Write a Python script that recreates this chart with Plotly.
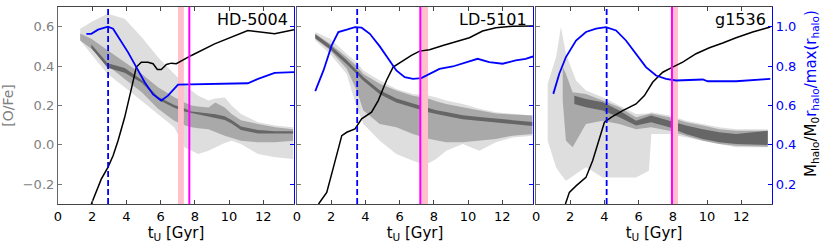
import plotly.graph_objects as go

# ---------------- data ----------------
PANEL_NAMES = ["HD-5004", "LD-5101", "g1536"]
X_TICKS = [0, 2, 4, 6, 8, 10, 12]
OFE_TICKS = [-0.2, 0.0, 0.2, 0.4, 0.6]
OFE_TICKTEXT = ["\u22120.2", "0.0", "0.2", "0.4", "0.6"]
RIGHT_TICKS = [0.2, 0.4, 0.6, 0.8, 1.0]
OFE_RANGE = [-0.3, 0.7]
RIGHT_RANGE = [0.1, 1.1]
T_RANGE = [0, 13.8]

# event times: dashed blue (max r_halo), pink band, magenta line
DASH_T = [2.93, 3.52, 4.13]
PINK_T0 = [7.02, 7.21, 7.95]
PINK_T1 = [7.36, 7.66, 8.30]
MAGENTA_T = [7.68, 7.21, 7.95]

# r_halo / max(r_halo)  (blue)
HD_R_T = [1.66, 1.95, 2.34, 2.92, 3.22, 3.6, 4.09, 4.58, 5.07, 5.56, 6.04, 6.43, 7.02, 11.1, 11.7, 12.67, 13.8]
HD_R = [0.964, 0.964, 0.985, 1.0, 0.99, 0.939, 0.871, 0.795, 0.718, 0.656, 0.625, 0.65, 0.706, 0.713, 0.735, 0.766, 0.769]
LD_R_T = [1.07, 1.55, 2.03, 2.42, 2.91, 3.39, 3.78, 4.26, 4.84, 5.33, 5.81, 6.3, 6.78, 7.27, 7.75, 8.33, 9.11, 9.88, 10.56, 11.24, 12.02, 12.79, 13.37, 13.8]
LD_R = [0.673, 0.778, 0.905, 0.973, 0.985, 0.998, 0.995, 0.964, 0.9, 0.837, 0.778, 0.744, 0.735, 0.739, 0.761, 0.786, 0.798, 0.82, 0.837, 0.82, 0.812, 0.829, 0.837, 0.849]
G_R_T = [1.01, 1.36, 1.75, 2.34, 2.92, 3.51, 4.09, 4.68, 5.26, 5.85, 6.43, 7.02, 7.6, 8.19, 8.97, 9.75, 10.04, 11.7, 13.7]
G_R = [0.659, 0.761, 0.846, 0.93, 0.973, 0.99, 0.998, 0.981, 0.93, 0.863, 0.795, 0.752, 0.735, 0.727, 0.73, 0.732, 0.723, 0.723, 0.735]

# M_halo / M_0  (black)
HD_M_T = [1.95, 2.24, 2.53, 2.92, 3.22, 3.51, 3.9, 4.29, 4.58, 4.87, 5.26, 5.56, 5.81, 6.04, 6.34, 6.63, 6.92, 7.8, 9.16, 11.1, 12.67, 13.8]
HD_M = [0.1, 0.159, 0.226, 0.286, 0.345, 0.421, 0.54, 0.684, 0.795, 0.82, 0.82, 0.812, 0.783, 0.783, 0.808, 0.815, 0.812, 0.854, 0.913, 0.981, 0.964, 0.985]
LD_M_T = [1.26, 1.74, 2.13, 2.62, 2.91, 3.39, 3.78, 4.36, 4.75, 5.23, 5.62, 6.2, 6.69, 7.17, 7.75, 8.53, 9.3, 10.08, 10.85, 11.63, 12.6, 13.8]
LD_M = [0.1, 0.159, 0.286, 0.447, 0.464, 0.481, 0.532, 0.566, 0.625, 0.727, 0.795, 0.829, 0.854, 0.876, 0.883, 0.905, 0.925, 0.944, 0.978, 0.995, 1.002, 1.003]
G_M_T = [1.72, 1.95, 2.34, 2.92, 3.31, 3.7, 4.0, 4.39, 5.07, 5.85, 6.34, 6.82, 7.41, 7.99, 8.58, 9.36, 10.14, 10.92, 11.7, 12.67, 13.7]
G_M = [0.1, 0.159, 0.192, 0.235, 0.32, 0.43, 0.515, 0.54, 0.574, 0.608, 0.65, 0.718, 0.769, 0.795, 0.82, 0.863, 0.893, 0.917, 0.944, 0.973, 0.998]

# [O/Fe] density levels (outline of each grey level)
HD_T = [1.3, 1.95, 2.9, 3.9, 4.9, 5.85, 6.8, 7.4, 7.8, 8.2, 8.8, 9.2, 9.75, 10.15, 10.7, 11.7, 12.7, 13.75]
HD_LIGHT_HI = [0.59, 0.624, 0.666, 0.64, 0.547, 0.445, 0.36, 0.31, 0.276, 0.25, 0.225, 0.235, 0.24, 0.2, 0.157, 0.115, 0.098, 0.09]
HD_LIGHT_LO = [0.53, 0.462, 0.36, 0.293, 0.225, 0.157, 0.09, -0.012, -0.03, -0.046, -0.03, -0.012, 0.01, 0.021, 0.004, -0.046, -0.063, -0.072]
HD_MID_HI = [0.565, 0.539, 0.48, 0.42, 0.36, 0.293, 0.242, 0.215, 0.2, 0.195, 0.19, 0.215, 0.19, 0.157, 0.125, 0.106, 0.09, 0.08]
HD_MID_LO = [0.53, 0.488, 0.403, 0.335, 0.267, 0.183, 0.123, 0.1, 0.09, 0.085, 0.08, 0.065, 0.047, 0.035, 0.021, 0.013, 0.013, 0.021]
HD_DARK_T = [1.95, 2.9, 3.9, 4.9, 5.85, 6.8, 7.4, 7.8, 8.2, 8.8, 9.2, 9.75, 10.15, 10.7, 11.7, 12.7, 13.75]
HD_DARK_HI = [0.51, 0.415, 0.39, 0.33, 0.245, 0.203, 0.185, 0.17, 0.166, 0.162, 0.156, 0.145, 0.126, 0.094, 0.076, 0.069, 0.069]
HD_DARK_LO = [0.492, 0.392, 0.366, 0.315, 0.23, 0.188, 0.17, 0.161, 0.154, 0.144, 0.137, 0.127, 0.109, 0.076, 0.058, 0.058, 0.058]

LD_T = [1.07, 1.94, 2.91, 3.49, 3.88, 4.84, 5.81, 6.78, 7.36, 7.75, 8.14, 8.72, 9.69, 10.66, 11.63, 12.6, 13.76]
LD_LIGHT_HI = [0.573, 0.539, 0.462, 0.42, 0.378, 0.327, 0.284, 0.259, 0.255, 0.25, 0.24, 0.225, 0.208, 0.183, 0.166, 0.157, 0.149]
LD_LIGHT_LO = [0.53, 0.462, 0.36, 0.19, 0.106, 0.021, -0.046, -0.08, -0.097, -0.09, -0.072, -0.03, 0.004, -0.03, 0.013, 0.038, 0.047]
LD_MID_HI = [0.564, 0.513, 0.445, 0.40, 0.36, 0.31, 0.276, 0.25, 0.24, 0.233, 0.222, 0.208, 0.191, 0.174, 0.16, 0.154, 0.149]
LD_MID_LO = [0.539, 0.48, 0.386, 0.276, 0.174, 0.106, 0.09, 0.055, 0.04, 0.03, 0.022, 0.013, 0.013, 0.021, 0.03, 0.047, 0.055]
LD_DARK_T = LD_T
LD_DARK_HI = [0.562, 0.506, 0.43, 0.38, 0.345, 0.277, 0.235, 0.21, 0.195, 0.184, 0.176, 0.167, 0.15, 0.142, 0.133, 0.125, 0.116]
LD_DARK_LO = [0.542, 0.486, 0.41, 0.36, 0.325, 0.257, 0.215, 0.19, 0.175, 0.164, 0.156, 0.147, 0.13, 0.122, 0.113, 0.105, 0.096]

G_T = [0.68, 1.17, 1.46, 1.75, 2.34, 2.92, 3.9, 4.87, 5.85, 6.6, 6.75, 7.8, 8.77, 9.75, 10.72, 11.7, 12.7, 13.55]
G_LIGHT_HI = [0.31, 0.445, 0.60, 0.462, 0.327, 0.276, 0.242, 0.2, 0.157, 0.16, 0.166, 0.149, 0.123, 0.106, 0.09, 0.08, 0.08, 0.08]
G_LIGHT_LO = [0.021, -0.114, -0.15, -0.182, -0.148, -0.114, -0.165, -0.165, -0.165, -0.131, 0.055, 0.055, 0.038, 0.021, 0.004, -0.012, -0.012, -0.012]
G_MID_T = [1.56, 1.75, 2.14, 2.92, 3.9, 4.87, 5.85, 6.73, 7.8, 8.77, 9.75, 10.72, 11.7, 13.55]
G_MID_HI = [0.395, 0.36, 0.267, 0.259, 0.225, 0.191, 0.14, 0.16, 0.14, 0.115, 0.098, 0.08, 0.072, 0.072]
G_MID_LO = [0.225, 0.021, -0.012, 0.106, 0.123, 0.106, 0.08, 0.09, 0.072, 0.047, 0.021, 0.004, -0.004, -0.009]
G_DARK_T = [2.24, 2.92, 3.9, 4.87, 5.85, 6.73, 7.8, 8.77, 9.75, 10.72, 11.7, 13.55]
G_DARK_HI = [0.25, 0.233, 0.217, 0.174, 0.123, 0.149, 0.123, 0.098, 0.08, 0.064, 0.055, 0.072]
G_DARK_LO = [0.208, 0.191, 0.174, 0.14, 0.098, 0.115, 0.09, 0.055, 0.03, 0.013, 0.004, 0.0]

# ---------------- styling ----------------
LIGHT, MID, DARK = "#dedede", "#a9a9a9", "#666666"
GREY_TXT = "#808080"
BLUE = "#0000ff"
FONT = "DejaVu Sans"

panels = [
    dict(bands=[(HD_T, HD_LIGHT_HI, HD_LIGHT_LO, LIGHT), (HD_T, HD_MID_HI, HD_MID_LO, MID),
                (HD_DARK_T, HD_DARK_HI, HD_DARK_LO, DARK)],
         rt=HD_R_T, r=HD_R, mt=HD_M_T, m=HD_M),
    dict(bands=[(LD_T, LD_LIGHT_HI, LD_LIGHT_LO, LIGHT), (LD_T, LD_MID_HI, LD_MID_LO, MID),
                (LD_DARK_T, LD_DARK_HI, LD_DARK_LO, DARK)],
         rt=LD_R_T, r=LD_R, mt=LD_M_T, m=LD_M),
    dict(bands=[(G_T, G_LIGHT_HI, G_LIGHT_LO, LIGHT), (G_MID_T, G_MID_HI, G_MID_LO, MID),
                (G_DARK_T, G_DARK_HI, G_DARK_LO, DARK)],
         rt=G_R_T, r=G_R, mt=G_M_T, m=G_M),
]

DOMAINS = [[0.0, 0.3305], [0.3347, 0.6653], [0.6695, 1.0]]

fig = go.Figure()
layout = {}
shapes = []
annotations = []

for i, p in enumerate(panels):
    n = i + 1
    xa = "x" if n == 1 else f"x{n}"
    ya = "y" if n == 1 else f"y{n}"
    yr = f"y{n + 3}"

    for (t, hi, lo, col) in p["bands"]:
        fig.add_trace(go.Scatter(
            x=list(t) + list(t)[::-1], y=list(hi) + list(lo)[::-1],
            fill="toself", fillcolor=col, mode="lines", line=dict(width=0, color=col),
            hoverinfo="skip", showlegend=False, xaxis=xa, yaxis=ya))

    # pink band (above the grey density)
    fig.add_trace(go.Scatter(
        x=[PINK_T0[i], PINK_T1[i], PINK_T1[i], PINK_T0[i]],
        y=[OFE_RANGE[0], OFE_RANGE[0], OFE_RANGE[1], OFE_RANGE[1]],
        fill="toself", fillcolor="#ffc0cb", mode="lines", line=dict(width=0),
        hoverinfo="skip", showlegend=False, xaxis=xa, yaxis=ya))

    fig.add_trace(go.Scatter(x=p["mt"], y=p["m"], mode="lines",
                             line=dict(color="black", width=1.5), showlegend=False,
                             xaxis=xa, yaxis=yr))
    fig.add_trace(go.Scatter(x=p["rt"], y=p["r"], mode="lines",
                             line=dict(color=BLUE, width=1.8), showlegend=False,
                             xaxis=xa, yaxis=yr))

    shapes.append(dict(type="line", xref=xa, yref=f"{ya} domain", x0=DASH_T[i], x1=DASH_T[i],
                       y0=0, y1=1, line=dict(color=BLUE, width=1.8, dash="6px,3px")))
    shapes.append(dict(type="line", xref=xa, yref=f"{ya} domain", x0=MAGENTA_T[i], x1=MAGENTA_T[i],
                       y0=0, y1=1, line=dict(color="#ff00ff", width=2)))

    annotations.append(dict(text=PANEL_NAMES[i], xref=f"{xa} domain", yref=f"{ya} domain",
                            x=0.985, y=0.995, xanchor="right", yanchor="top", showarrow=False,
                            font=dict(family=FONT, size=16, color="black")))

    xkey = "xaxis" if n == 1 else f"xaxis{n}"
    layout[xkey] = dict(domain=DOMAINS[i], anchor=ya, range=T_RANGE, tickvals=X_TICKS,
                        ticks="inside", ticklen=4, tickcolor="#444", showline=True,
                        linecolor="#444", linewidth=1.2, mirror="ticks", showgrid=False,
                        zeroline=False, tickfont=dict(family=FONT, size=13, color="black"),
                        title=dict(text="t<sub>U</sub> [Gyr]", standoff=2,
                                   font=dict(family=FONT, size=15, color="black")))
    ykey = "yaxis" if n == 1 else f"yaxis{n}"
    layout[ykey] = dict(domain=[0, 1], anchor=xa, range=OFE_RANGE, tickmode="array",
                        tickvals=OFE_TICKS, ticktext=OFE_TICKTEXT,
                        ticks="inside", ticklen=4, tickcolor="#777", showline=True,
                        linecolor="#666", linewidth=1.2, showgrid=False, zeroline=False,
                        showticklabels=(n == 1),
                        tickfont=dict(family=FONT, size=13, color=GREY_TXT),
                        title=dict(text="[O/Fe]" if n == 1 else "", standoff=8,
                                   font=dict(family=FONT, size=14, color=GREY_TXT)))
    layout[f"yaxis{n + 3}"] = dict(overlaying=ya, anchor=xa, side="right", range=RIGHT_RANGE,
                                   tickvals=RIGHT_TICKS, tickformat=".1f", ticks="inside",
                                   ticklen=4, tickcolor=BLUE, showline=True, linecolor=BLUE,
                                   linewidth=1.2, showgrid=False, zeroline=False,
                                   showticklabels=(n == 3),
                                   tickfont=dict(family=FONT, size=13, color=BLUE))

annotations.append(dict(
    text='M<sub>halo</sub>/M<sub>0</sub><span style="color:#0000ff">r<sub>halo</sub>/max(r<sub>halo</sub>)</span>',
    xref="paper", yref="paper", x=1.055, y=0.56, xanchor="center", yanchor="middle",
    textangle=-90, showarrow=False, font=dict(family=FONT, size=15, color="black")))

fig.update_layout(**layout)
fig.update_layout(width=822, height=247, margin=dict(l=58, r=50, t=7, b=43, autoexpand=False),
                  paper_bgcolor="white", plot_bgcolor="white",
                  shapes=shapes, annotations=annotations, showlegend=False)

fig.write_html("out.html", config={"displayModeBar": False},
               post_script="document.body.style.margin='0';")
